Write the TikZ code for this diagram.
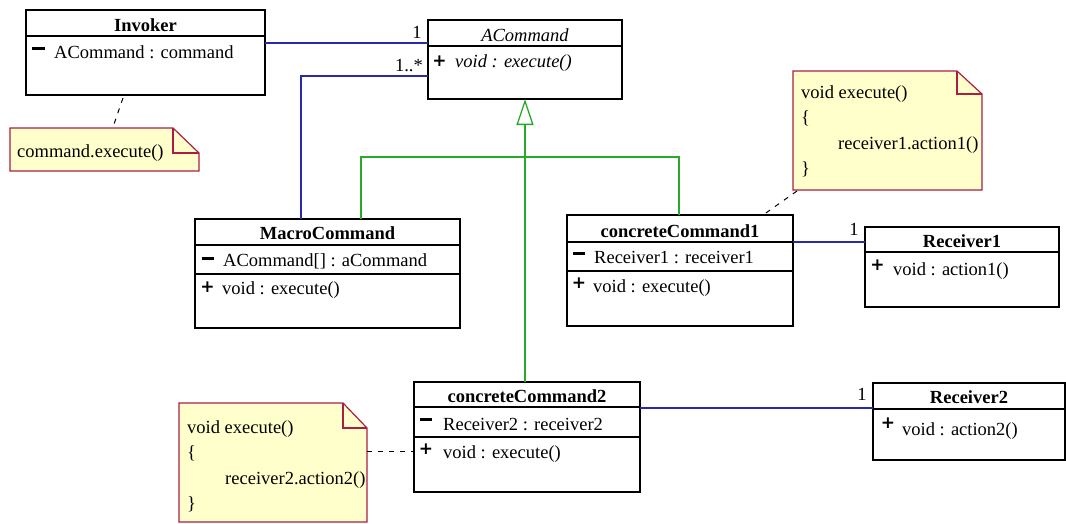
\documentclass[tikz,border=0pt]{standalone}
\usepackage{fontspec}
\setmainfont{Liberation Serif}
\newfontfamily\markfont{DejaVu Sans}
\usetikzlibrary{arrows.meta,calc}
\definecolor{umlblue}{RGB}{40,40,170}
\definecolor{umlgreen}{RGB}{40,170,40}
\definecolor{notefill}{RGB}{255,255,204}
\definecolor{noteedge}{RGB}{170,30,70}
\newcommand\umlfs{\fontsize{18.5}{20}\selectfont}
\begin{document}
\begin{tikzpicture}[x=1pt,y=-1pt,
 cls/.style={draw=black,line width=1.2pt,fill=white,anchor=north west,inner sep=0pt,outer sep=0pt},
 hd/.style={font=\umlfs\bfseries,anchor=base,inner sep=0pt},
 mb/.style={font=\umlfs,anchor=base west,inner sep=0pt},
 pl/.style={font=\markfont\fontsize{17}{18}\selectfont\bfseries,inner sep=0pt},
 mi/.style={inner sep=0pt},
 sep/.style={draw=black,line width=1.2pt},
 assoc/.style={draw=umlblue,line width=1.3pt},
 genl/.style={draw=umlgreen,line width=1.3pt},
 gen/.style={genl,-{Triangle[open,length=26pt,width=17pt]}},
 notebox/.style={inner sep=0pt,outer sep=0pt,anchor=north west},
 noteshape/.style={draw=noteedge,fill=notefill,line width=1.2pt},
 anchorline/.style={draw=black,line width=1pt,dash pattern=on 5pt off 6pt},
 mult/.style={font=\umlfs,inner sep=0pt},
]
\useasboundingbox (0,0) rectangle (1066,523);
\clip (0,0) rectangle (1066,523);

% ---------- class boxes ----------
\node[cls,minimum width=239pt,minimum height=85pt] (inv) at (26,10) {};
\draw[sep] ($(inv.north west)+(0,26)$) -- ($(inv.north east)+(0,26)$);

\node[cls,minimum width=194pt,minimum height=79pt] (acmd) at (428,20) {};
\draw[sep] ($(acmd.north west)+(0,26)$) -- ($(acmd.north east)+(0,26)$);

\node[cls,minimum width=265pt,minimum height=109pt] (macro) at (195,219) {};
\draw[sep] ($(macro.north west)+(0,26)$) -- ($(macro.north east)+(0,26)$);
\draw[sep] ($(macro.north west)+(0,55)$) -- ($(macro.north east)+(0,55)$);

\node[cls,minimum width=226pt,minimum height=111pt] (cc1) at (567,215) {};
\draw[sep] ($(cc1.north west)+(0,27)$) -- ($(cc1.north east)+(0,27)$);
\draw[sep] ($(cc1.north west)+(0,56)$) -- ($(cc1.north east)+(0,56)$);

\node[cls,minimum width=194pt,minimum height=80pt] (rec1) at (865,227) {};
\draw[sep] ($(rec1.north west)+(0,25)$) -- ($(rec1.north east)+(0,25)$);

\node[cls,minimum width=226pt,minimum height=110pt] (cc2) at (414,382) {};
\draw[sep] ($(cc2.north west)+(0,25)$) -- ($(cc2.north east)+(0,25)$);
\draw[sep] ($(cc2.north west)+(0,55)$) -- ($(cc2.north east)+(0,55)$);

\node[cls,minimum width=192pt,minimum height=77pt] (rec2) at (873,383) {};
\draw[sep] ($(rec2.north west)+(0,26)$) -- ($(rec2.north east)+(0,26)$);

% ---------- notes ----------
\node[notebox,minimum width=189pt,minimum height=43pt] (n0) at (10,128) {};
\draw[noteshape] (n0.north west) -- ($(n0.north east)+(-26,0)$) -- ($(n0.north east)+(0,25)$) -- (n0.south east) -- (n0.south west) -- cycle;
\draw[noteshape,fill=none] ($(n0.north east)+(-26,0)$) |- ($(n0.north east)+(0,25)$);

\node[notebox,minimum width=189pt,minimum height=119pt] (n1) at (793,71) {};
\draw[noteshape] (n1.north west) -- ($(n1.north east)+(-25,0)$) -- ($(n1.north east)+(0,23)$) -- (n1.south east) -- (n1.south west) -- cycle;
\draw[noteshape,fill=none] ($(n1.north east)+(-25,0)$) |- ($(n1.north east)+(0,23)$);

\node[notebox,minimum width=188pt,minimum height=119pt] (n2) at (179,403) {};
\draw[noteshape] (n2.north west) -- ($(n2.north east)+(-24,0)$) -- ($(n2.north east)+(0,25)$) -- (n2.south east) -- (n2.south west) -- cycle;
\draw[noteshape,fill=none] ($(n2.north east)+(-24,0)$) |- ($(n2.north east)+(0,25)$);

% ---------- associations ----------
\coordinate (a1) at ($(acmd.north west)+(0,23)$);
\draw[assoc] (a1 -| inv.east) -- (a1);
\coordinate (a2) at ($(acmd.north west)+(0,56)$);
\coordinate (m1) at ($(macro.north west)+(106,0)$);
\draw[assoc] (m1) |- (a2);
\coordinate (r1a) at ($(rec1.north west)+(0,15)$);
\draw[assoc] (r1a -| cc1.east) -- (r1a);
\coordinate (r2a) at ($(rec2.north west)+(0,25)$);
\draw[assoc] (r2a -| cc2.east) -- (r2a);

% ---------- generalization ----------
\coordinate (m2) at ($(macro.north west)+(166,0)$);
\coordinate (c1t) at ($(cc1.north west)+(112,0)$);
\draw[genl] (m2) -- ++(0,-62) -| (c1t);
\draw[gen] (acmd.south |- cc2.north) -- (acmd.south);

% ---------- note anchors ----------
\draw[anchorline] ($(inv.south west)+(97,3)$) -- ($(n0.north west)+(103,-1)$);
\draw[anchorline] ($(n1.south west)+(4,1)$) -- ($(cc1.north west)+(196,0)$);
\coordinate (c2d) at ($(cc2.north west)+(0,69)$);
\draw[anchorline] (c2d -| n2.east) -- (c2d);

% ---------- multiplicities ----------
\node[mult] (mu1) at (417,32) {1};
\node[mult,anchor=east] (mu2) at (423,66) {1..*};
\node[mult] (mu3) at (854,229) {1};
\node[mult] (mu4) at (862,394) {1};

% ---------- texts ----------
\node[hd] (inv-h) at (145.5,31) {Invoker};
\node[mi] (inv-v1) at (38.5,48) {\rule{13pt}{3pt}};
\node[mb] (inv-a1) at (54,58) {ACommand : command};

\node[hd,font=\umlfs\itshape] (acmd-h) at (525,41) {ACommand};
\node[pl] (acmd-v1) at (439.5,61) {+};
\node[mb,font=\umlfs\itshape] (acmd-o1) at (455,67) {void : execute()};

\node[hd] (macro-h) at (327.5,239) {MacroCommand};
\node[mi] (macro-v1) at (207.5,258) {\rule{12pt}{3pt}};
\node[mb] (macro-a1) at (223,266) {ACommand[] : aCommand};
\node[pl] (macro-v2) at (207.5,287) {+};
\node[mb] (macro-o1) at (222,294) {void : execute()};

\node[hd] (cc1-h) at (680,237) {concreteCommand1};
\node[mi] (cc1-v1) at (579,253) {\rule{12pt}{3pt}};
\node[mb] (cc1-a1) at (594,263) {Receiver1 : receiver1};
\node[pl] (cc1-v2) at (579,283) {+};
\node[mb] (cc1-o1) at (593,292) {void : execute()};

\node[hd] (rec1-h) at (962,247) {Receiver1};
\node[pl] (rec1-v1) at (877.5,265) {+};
\node[mb] (rec1-o1) at (893,275) {void : action1()};

\node[hd] (cc2-h) at (527,402) {concreteCommand2};
\node[mi] (cc2-v1) at (426,419) {\rule{12pt}{3pt}};
\node[mb] (cc2-a1) at (443,430) {Receiver2 : receiver2};
\node[pl] (cc2-v2) at (426,449) {+};
\node[mb] (cc2-o1) at (443,458) {void : execute()};

\node[hd] (rec2-h) at (969,403) {Receiver2};
\node[pl] (rec2-v1) at (888,423) {+};
\node[mb] (rec2-o1) at (902,435) {void : action2()};

\node[mb] (n0-t) at (17,157) {command.execute()};

\node[mb] (n1-t1) at (801,98) {void execute()};
\node[mb] (n1-t2) at (801,123.5) {\{};
\node[mb] (n1-t3) at (838,149) {receiver1.action1()};
\node[mb] (n1-t4) at (801,174.5) {\}};

\node[mb] (n2-t1) at (187,433) {void execute()};
\node[mb] (n2-t2) at (187,458.5) {\{};
\node[mb] (n2-t3) at (225,484) {receiver2.action2()};
\node[mb] (n2-t4) at (187,509.5) {\}};
\end{tikzpicture}
\end{document}
